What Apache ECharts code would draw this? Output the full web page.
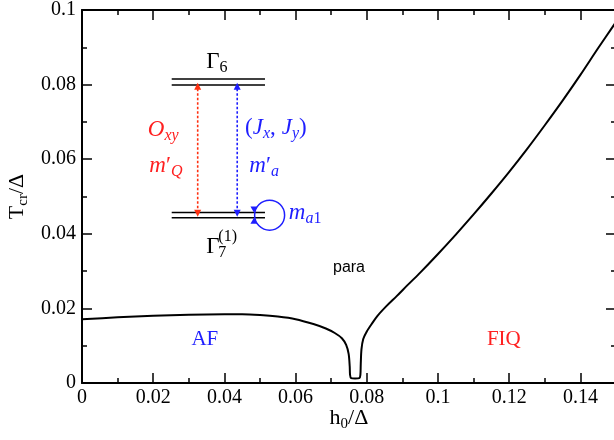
<!DOCTYPE html>
<html>
<head>
<meta charset="utf-8">
<script src="https://cdn.jsdelivr.net/npm/echarts@6/dist/echarts.min.js"></script>
<style>
html, body { margin: 0; padding: 0; background: #fff; }
#main { width: 614px; height: 440px; }
</style>
</head>
<body>
<div id="main"></div>
<script>
// phase boundary T_cr(h0)
var h0 = [0, 0.01, 0.02, 0.03, 0.04, 0.045, 0.05, 0.055, 0.06, 0.065, 0.0685, 0.071, 0.073,
	0.0742, 0.0749, 0.0752, 0.0753, 0.0756, 0.0767, 0.0779, 0.0782, 0.0783, 0.0785, 0.0790,
	0.0800, 0.0815, 0.0830, 0.0855, 0.0884, 0.0915, 0.095, 0.10, 0.105, 0.11, 0.115, 0.12,
	0.125, 0.13, 0.135, 0.14, 0.145, 0.15];
var tcr = [0.0171, 0.0176, 0.0180, 0.0183, 0.0184, 0.0184, 0.0182, 0.0178, 0.0171, 0.0158, 0.0146, 0.0134, 0.0120,
	0.0102, 0.0078, 0.0045, 0.0022, 0.0013, 0.0012, 0.0013, 0.0022, 0.0050, 0.0090, 0.0118,
	0.0138, 0.0160, 0.0180, 0.0206, 0.0233, 0.0263, 0.0296, 0.0346, 0.0398, 0.0452, 0.0508, 0.0566,
	0.0627, 0.0691, 0.0757, 0.0826, 0.0898, 0.0968];

// ticks
var xMajor = [0, 0.02, 0.04, 0.06, 0.08, 0.1, 0.12, 0.14];
var xMinor = [0.01, 0.03, 0.05, 0.07, 0.09, 0.11, 0.13];
var yMajor = [0, 0.02, 0.04, 0.06, 0.08, 0.1];
var yMinor = [0.01, 0.03, 0.05, 0.07, 0.09];

// inset level scheme (data coords)
var levelX = [0.0252, 0.0514];
var levelY = [0.0815, 0.0799, 0.0457, 0.0443];
var arrowX = [0.0325, 0.0436];
var arrowY = [0.0805, 0.0446];
var loopC = [0.0527, 0.0450];
var loopArrowX = 0.0483;

var SERIF = '"Liberation Serif", "DejaVu Serif", serif';
var RED = '#ff2020';
var BLUE = '#1e1eff';

function mkAxis(pos, vals, len, main) {
	var isX = (pos == 'bottom' || pos == 'top');
	return {
		type: 'value',
		position: pos,
		min: 0,
		max: isX ? 0.15 : 0.1,
		axisLine: { show: main, onZero: false, lineStyle: { color: '#000', width: 2 } },
		axisTick: { show: true, inside: true, length: len, customValues: vals,
			lineStyle: { color: '#000', width: 1.5 } },
		axisLabel: { show: main && (pos == 'bottom' || pos == 'left'), customValues: vals,
			fontFamily: SERIF, fontSize: 20, color: '#000', margin: isX ? 5 : 6 },
		splitLine: { show: false }
	};
}

var xAxes = [
	mkAxis('bottom', xMajor, 10, true),
	mkAxis('bottom', xMinor, 5, false),
	mkAxis('top', xMajor, 10, true),
	mkAxis('top', xMinor, 5, false)
];
var yAxes = [
	mkAxis('left', yMajor, 10, true),
	mkAxis('left', yMinor, 5, false),
	mkAxis('right', yMajor, 10, true),
	mkAxis('right', yMinor, 5, false)
];

var nameRich = {
	t: { fontFamily: SERIF, fontSize: 22, lineHeight: 26, color: '#000' },
	s: { fontFamily: SERIF, fontSize: 15, lineHeight: 15, padding: [13, 0, 0, 0], color: '#000' }
};
xAxes[0].name = '{t|h}{s|0}{t|/Δ}';
xAxes[0].nameLocation = 'middle';
xAxes[0].nameGap = 22;
xAxes[0].nameMoveOverlap = false;
xAxes[0].nameTextStyle = { fontFamily: SERIF, fontSize: 22, color: '#000', rich: nameRich };
yAxes[0].name = '{t|T}{s|cr}{t|/Δ}';
yAxes[0].nameLocation = 'middle';
yAxes[0].nameRotate = 90;
yAxes[0].nameGap = 52;
yAxes[0].nameMoveOverlap = false;
yAxes[0].nameTextStyle = { fontFamily: SERIF, fontSize: 22, color: '#000', rich: nameRich };

var curve = [];
for (var i = 0; i < h0.length; i++) curve.push([h0[i], tcr[i]]);

var chart = echarts.init(document.getElementById('main'));
chart.setOption({
	animation: false,
	backgroundColor: '#fff',
	grid: { left: 82, right: -2, top: 10, bottom: 57, containLabel: false, outerBoundsMode: 'none' },
	xAxis: xAxes,
	yAxis: yAxes,
	series: [{
		type: 'line',
		xAxisIndex: 0,
		yAxisIndex: 0,
		data: curve,
		showSymbol: false,
		smooth: 0.3,
		lineStyle: { color: '#000', width: 2 }
	}]
});

function P(x, y) {
	return chart.convertToPixel({ xAxisIndex: 0, yAxisIndex: 0 }, [x, y]);
}

var richBase = {
	g: { fontFamily: SERIF, fontSize: 23, lineHeight: 27 },
	c: { fontFamily: SERIF, fontSize: 23, lineHeight: 27, padding: [0, 6, 0, 0] },
	i: { fontFamily: SERIF, fontSize: 23, fontStyle: 'italic', lineHeight: 27 },
	s: { fontFamily: SERIF, fontSize: 16, lineHeight: 16, padding: [12, 0, 0, 0] },
	si: { fontFamily: SERIF, fontSize: 16, fontStyle: 'italic', lineHeight: 16, padding: [12, 0, 0, 0] }
};

function txt(x, y, text, color, align, extra) {
	var p = P(x, y);
	var st = {
		text: text, fill: color, align: align, textAlign: align,
		verticalAlign: 'middle', textVerticalAlign: 'middle',
		rich: richBase, font: '23px ' + SERIF
	};
	if (extra) for (var k in extra) st[k] = extra[k];
	return { type: 'text', x: p[0], y: p[1], z: 10, style: st };
}

function hline(x1, x2, y, color) {
	var a = P(x1, y), b = P(x2, y);
	return { type: 'line', z: 10, shape: { x1: a[0], y1: a[1], x2: b[0], y2: b[1] },
		style: { stroke: color, lineWidth: 1.6 } };
}

function arrow(x, y1, y2, color) {
	var a = P(x, y1), b = P(x, y2);
	var els = [];
	els.push({ type: 'line', z: 10, shape: { x1: a[0], y1: a[1] + 6, x2: b[0], y2: b[1] - 6 },
		style: { stroke: color, lineWidth: 1.6, lineDash: [2.5, 2] } });
	els.push({ type: 'polygon', z: 10, shape: { points: [[a[0], a[1]], [a[0] - 3.5, a[1] + 7], [a[0] + 3.5, a[1] + 7]] },
		style: { fill: color } });
	els.push({ type: 'polygon', z: 10, shape: { points: [[b[0], b[1]], [b[0] - 3.5, b[1] - 7], [b[0] + 3.5, b[1] - 7]] },
		style: { fill: color } });
	return els;
}

var g = [];
for (var j = 0; j < levelY.length; j++) g.push(hline(levelX[0], levelX[1], levelY[j], '#000'));
g = g.concat(arrow(arrowX[0], arrowY[0], arrowY[1], '#ff3010'));
g = g.concat(arrow(arrowX[1], arrowY[0], arrowY[1], BLUE));

var c = P(loopC[0], loopC[1]);
g.push({ type: 'circle', z: 10, shape: { cx: c[0], cy: c[1], r: 15 },
	style: { fill: 'none', stroke: BLUE, lineWidth: 1.5 } });
var la = P(loopArrowX, levelY[2]), lb = P(loopArrowX, levelY[3]);
g.push({ type: 'polygon', z: 11, shape: { points: [[la[0] - 3.5, la[1] - 6], [la[0] + 3.5, la[1] - 6], [la[0], la[1]]] },
	style: { fill: BLUE } });
g.push({ type: 'polygon', z: 11, shape: { points: [[lb[0] - 3.5, lb[1] + 6], [lb[0] + 3.5, lb[1] + 6], [lb[0], lb[1]]] },
	style: { fill: BLUE } });

// inset labels
g.push(txt(0.0379, 0.0861, '{g|Γ}{s|6}', '#000', 'center'));
g.push(txt(0.0368, 0.0365, 'Γ', '#000', 'center', { rich: null }));
g.push(txt(0.0383, 0.0391, '(1)', '#000', 'left', { font: '16px ' + SERIF, rich: null }));
g.push(txt(0.0383, 0.0350, '7', '#000', 'left', { font: '16px ' + SERIF, rich: null }));
g.push(txt(0.0185, 0.0678, '{i|O}{si|xy}', RED, 'left'));
g.push(txt(0.0189, 0.0582, '{i|m}{g|′}{si|Q}', RED, 'left'));
g.push(txt(0.0458, 0.0684, '{g|(}{i|J}{si|x}{c|,}{i|J}{si|y}{g|)}', BLUE, 'left'));
g.push(txt(0.0470, 0.0582, '{i|m}{g|′}{si|a}', BLUE, 'left'));
g.push(txt(0.0581, 0.0456, '{i|m}{si|a}{s|1}', BLUE, 'left'));

// phase labels
g.push(txt(0.0750, 0.0309, 'para', '#000', 'center', { font: '16px "Liberation Sans", Arial, sans-serif', rich: null }));
g.push(txt(0.0345, 0.0116, 'AF', BLUE, 'center', { font: '21px ' + SERIF, rich: null }));
g.push(txt(0.1185, 0.0116, 'FIQ', RED, 'center', { font: '21px ' + SERIF, rich: null }));

chart.setOption({ graphic: { elements: g } });
</script>
</body>
</html>
